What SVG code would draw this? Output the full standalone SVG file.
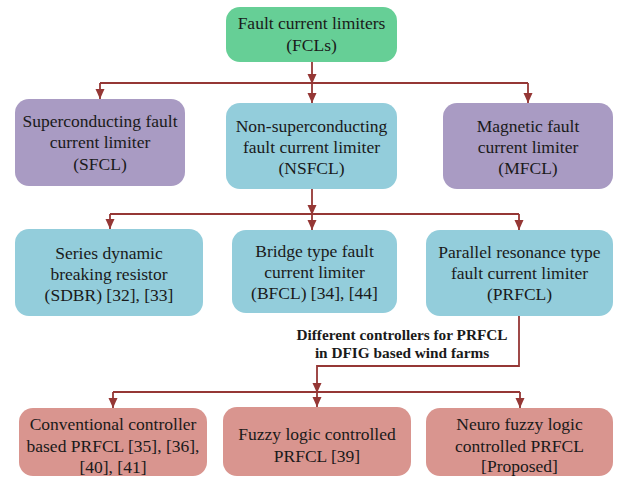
<svg xmlns="http://www.w3.org/2000/svg" width="617" height="481" viewBox="0 0 617 481">
<style>
text{font-family:'Liberation Serif','Times New Roman',Tinos,'DejaVu Serif',serif}
.t{font-size:17.5px;fill:#1a1a1a;text-anchor:middle}
.lb{font-size:15.3px;font-weight:bold;fill:#1a1a1a;text-anchor:middle}
.g{fill:#66cf96}
.p{fill:#a99bc3}
.b{fill:#93cddb}
.r{fill:#d9958f}
.c{fill:none;stroke:#953735;stroke-width:1.8}
</style>
<defs>
<marker id="ah" markerUnits="userSpaceOnUse" markerWidth="10" markerHeight="10" refX="10" refY="5" orient="auto" viewBox="0 0 10 10">
<path d="M0,0.5 L10,5 L0,9.5 z" fill="#953735"/>
</marker>
</defs>
<rect width="617" height="481" fill="#ffffff"/>
<g id="connectors">
<path class="c" d="M312,62 V84" marker-end="url(#ah)"/>
<path class="c" d="M100,83 H528"/>
<path class="c" d="M100,83 V99" marker-end="url(#ah)"/>
<path class="c" d="M312,83 V103" marker-end="url(#ah)"/>
<path class="c" d="M528,83 V103" marker-end="url(#ah)"/>
<path class="c" d="M312,189 V215" marker-end="url(#ah)"/>
<path class="c" d="M110,214 H519"/>
<path class="c" d="M110,214 V229" marker-end="url(#ah)"/>
<path class="c" d="M312,214 V230" marker-end="url(#ah)"/>
<path class="c" d="M519,214 V230" marker-end="url(#ah)"/>
<path class="c" d="M519,316 V366 H317 V393" marker-end="url(#ah)"/>
<path class="c" d="M113,392 H520"/>
<path class="c" d="M113,392 V408" marker-end="url(#ah)"/>
<path class="c" d="M317,392 V407" marker-end="url(#ah)"/>
<path class="c" d="M520,392 V408" marker-end="url(#ah)"/>
<text class="lb" x="402" y="340">Different controllers for PRFCL</text>
<text class="lb" x="402" y="358">in DFIG based wind farms</text>
</g>
<g id="fcl">
<rect class="g" x="226" y="7" width="171" height="55" rx="14"/>
<text class="t" x="311.5" y="29">Fault current limiters</text>
<text class="t" x="311.5" y="51">(FCLs)</text>
</g>
<g id="sfcl">
<rect class="p" x="15" y="99" width="170" height="87" rx="14"/>
<text class="t" x="100" y="127">Superconducting fault</text>
<text class="t" x="100" y="148">current limiter</text>
<text class="t" x="100" y="170">(SFCL)</text>
</g>
<g id="nsfcl">
<rect class="b" x="226" y="103" width="171" height="86" rx="14"/>
<text class="t" x="311.5" y="132">Non-superconducting</text>
<text class="t" x="311.5" y="153">fault current limiter</text>
<text class="t" x="311.5" y="174">(NSFCL)</text>
</g>
<g id="mfcl">
<rect class="p" x="443" y="103" width="170" height="86" rx="14"/>
<text class="t" x="528" y="132">Magnetic fault</text>
<text class="t" x="528" y="153">current limiter</text>
<text class="t" x="528" y="174">(MFCL)</text>
</g>
<g id="sdbr">
<rect class="b" x="15" y="229" width="188" height="87" rx="14"/>
<text class="t" x="109" y="259">Series dynamic</text>
<text class="t" x="109" y="280">breaking resistor</text>
<text class="t" x="109" y="301">(SDBR) [32], [33]</text>
</g>
<g id="bfcl">
<rect class="b" x="232" y="230" width="165" height="83" rx="14"/>
<text class="t" x="314.5" y="257">Bridge type fault</text>
<text class="t" x="314.5" y="278">current limiter</text>
<text class="t" x="314.5" y="299">(BFCL) [34], [44]</text>
</g>
<g id="prfcl">
<rect class="b" x="426" y="230" width="187" height="86" rx="14"/>
<text class="t" x="519.5" y="258">Parallel resonance type</text>
<text class="t" x="519.5" y="279">fault current limiter</text>
<text class="t" x="519.5" y="300">(PRFCL)</text>
</g>
<g id="conventional">
<rect class="r" x="19" y="408" width="188" height="68" rx="14"/>
<text class="t" x="113" y="430">Conventional controller</text>
<text class="t" x="113" y="452">based PRFCL [35], [36],</text>
<text class="t" x="113" y="473">[40], [41]</text>
</g>
<g id="fuzzy">
<rect class="r" x="223" y="407" width="188" height="69" rx="14"/>
<text class="t" x="317" y="440">Fuzzy logic controlled</text>
<text class="t" x="317" y="462">PRFCL [39]</text>
</g>
<g id="neuro">
<rect class="r" x="426" y="408" width="187" height="68" rx="14"/>
<text class="t" x="519.5" y="430">Neuro fuzzy logic</text>
<text class="t" x="519.5" y="452">controlled PRFCL</text>
<text class="t" x="519.5" y="472">[Proposed]</text>
</g>
</svg>
